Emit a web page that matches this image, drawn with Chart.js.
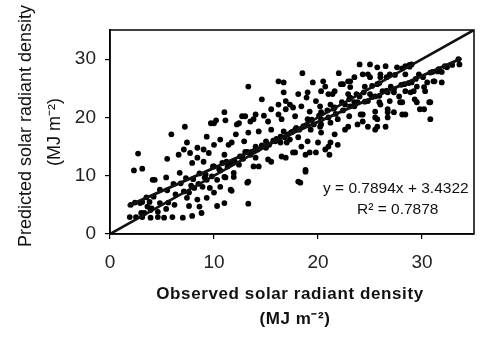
<!DOCTYPE html>
<html><head><meta charset="utf-8">
<script src="https://cdn.jsdelivr.net/npm/chart.js@4"></script>
<style>html,body{margin:0;padding:0;background:#fff}#wrap{width:480px;height:341px}</style>
</head><body><div id="wrap"><canvas id="c" width="480" height="341"></canvas></div>
<script>
// Observed (x) and predicted (y) solar radiant density, MJ m-2
const observed = [
1.9,2.5,3.1,3.9,4.6,5.2,6.0,7.0,7.9,8.8,3.0,3.9,4.6,5.4,6.2,3.6,2.0,7.6,8.6,10.3,11.0,7.4,9.3,8.4,3.1,3.8,10.0,7.6,8.1,9.6,8.9,10.6,11.6,11.7,4.1,4.3,5.4,9.3,10.3,11.0,11.1,6.7,11.9,2.3,3.1,10.0,10.8,11.7,7.9,9.0,5.5,8.4,6.6,11.0,2.7,7.7,9.5,7.1,9.0,8.4,10.0,11.4,7.4,10.6,9.3,5.9,7.2,9.7,10.2,11.0,11.1,10.0,
2.4,2.9,3.5,4.2,4.8,5.5,6.1,6.8,7.3,8.0,8.6,9.2,9.9,10.5,11.2,11.8,
3.3,4.0,4.8,5.6,6.3,7.1,7.8,8.5,9.1,9.8,10.6,11.3,
12.2,13.0,13.8,14.8,15.5,16.2,16.9,17.6,12.4,13.3,16.2,16.7,14.6,16.7,16.9,19.5,20.7,22.4,22.9,18.1,18.9,19.8,21.0,21.6,16.2,17.3,18.4,19.2,20.3,21.6,22.6,12.7,14.0,13.5,15.2,16.5,17.8,19.0,20.3,21.2,22.9,12.1,13.3,14.3,15.5,16.7,17.8,19.3,20.3,21.6,22.6,11.7,12.9,14.0,15.0,15.9,17.0,18.1,19.0,20.0,21.0,21.9,13.0,14.0,15.2,16.5,17.6,18.8,19.8,12.4,13.8,18.8,11.9,13.3,18.1,18.8,18.3,13.2,13.3,18.5,22.0,20.5,22.2,21.4,20.3,19.0,20.2,21.2,21.9,20.2,17.4,18.4,19.2,20.7,21.2,21.1,12.7,13.6,14.3,15.5,16.9,17.8,16.4,17.3,
12.5,13.2,13.9,14.6,15.3,16.0,16.8,17.5,18.2,18.9,19.6,20.3,21.0,21.7,22.4,23.1,
12.0,12.8,13.5,14.2,15.0,15.7,16.4,17.1,17.9,18.6,19.4,20.1,20.9,21.5,22.3,
24.0,25.0,25.7,26.5,27.6,28.4,29.0,33.6,31.9,31.1,30.2,23.1,24.3,25.0,26.0,28.3,29.0,29.2,28.4,27.3,26.2,25.0,24.0,22.9,23.5,24.8,25.9,26.9,28.1,29.8,30.7,28.1,26.7,25.5,24.3,23.0,30.8,25.7,28.8,23.5,24.8,26.0,26.9,28.4,29.7,31.0,31.6,32.4,23.1,24.5,25.7,27.0,29.5,30.5,31.2,31.9,23.1,25.5,26.7,27.8,28.9,30.3,23.5,26.0,27.9,29.3,29.5,30.8,24.1,25.5,26.7,27.3,28.4,30.2,24.3,25.7,26.7,23.8,24.8,25.5,26.5,
23.8,24.5,25.2,25.9,26.6,27.3,28.0,28.7,29.4,30.1,30.8,31.5,32.2,32.9,33.5,
23.0,23.7,24.4,25.2,25.9,26.6,27.4,28.1,28.8
];
const predicted = [
2.9,2.9,2.9,2.8,2.9,2.8,2.9,2.8,3.1,3.6,3.6,4.1,3.8,4.3,5.0,4.7,5.0,4.8,4.7,4.8,5.3,6.2,6.2,5.9,5.5,5.5,7.1,7.1,7.9,7.9,8.1,8.1,7.6,7.4,9.3,9.3,9.7,9.3,9.3,9.8,9.7,10.5,10.5,10.9,11.2,11.6,12.2,12.2,12.2,12.4,12.9,13.1,13.6,13.6,13.8,13.9,13.9,14.5,14.5,14.8,15.3,15.3,15.7,16.2,16.7,17.1,18.4,19.0,19.5,20.9,19.5,19.0,
5.4,5.3,6.3,6.4,7.6,7.5,8.6,8.7,9.6,9.4,10.4,10.2,11.6,11.1,12.4,12.2,
3.6,4.4,5.3,5.4,6.8,7.3,8.3,8.6,9.7,9.9,10.9,11.6,
18.8,20.2,19.7,20.3,21.4,20.5,21.4,21.7,19.0,25.3,26.2,26.0,23.1,24.3,22.8,26.0,25.3,25.7,26.2,24.0,23.4,22.8,24.0,24.5,22.2,22.2,21.9,21.0,20.9,21.7,22.2,20.2,20.5,19.3,19.3,19.7,20.2,19.7,18.8,19.1,18.4,17.1,17.4,17.6,17.9,17.6,17.9,17.9,17.4,17.1,17.9,15.7,15.9,15.0,15.9,15.9,15.7,16.6,15.9,15.7,15.0,15.3,14.1,13.1,12.8,13.3,14.0,13.6,14.0,11.9,11.6,11.0,9.8,9.0,9.0,10.7,8.8,8.8,5.2,27.6,27.6,26.2,25.7,24.0,24.5,24.3,21.9,22.2,19.7,18.4,17.4,15.0,14.0,14.5,15.7,13.6,13.3,14.1,11.6,12.4,13.1,14.0,15.7,16.2,
13.3,14.1,14.3,15.2,15.3,16.3,16.6,17.5,17.9,18.7,18.8,19.7,20.0,20.6,21.2,21.9,
12.4,12.9,13.6,14.5,14.8,16.0,16.7,17.1,18.2,18.5,19.6,20.3,21.2,21.5,22.6,
29.1,29.1,28.6,28.8,28.6,28.8,29.1,29.1,27.8,26.2,25.2,26.2,27.4,26.9,27.4,25.7,26.0,24.5,24.5,24.3,24.5,24.0,23.6,24.0,22.6,22.8,22.6,22.8,22.6,21.4,22.6,20.5,20.9,20.0,20.5,20.2,19.7,18.4,29.0,26.9,27.4,26.9,27.4,27.4,27.4,27.8,28.3,28.6,25.2,25.3,25.7,25.3,25.3,26.0,26.2,26.0,23.4,23.6,24.3,23.6,24.3,24.5,21.9,22.2,22.6,23.1,22.6,22.6,20.5,21.0,21.4,20.9,20.5,21.4,19.3,19.7,20.0,18.8,18.4,17.9,18.4,
22.6,22.7,23.5,23.7,24.6,24.8,25.6,25.9,26.6,26.9,27.7,27.9,28.8,29.0,30.0,
23.1,24.0,24.3,25.4,25.9,26.9,27.3,28.4,28.7
];
// Fitted regression and 1:1 reference
const slope = 0.7894, intercept = 3.4322, rSquared = 0.7878;
const fitRange = [1.7, 33.8];
const oneToOne = [0, 35];
const xTicks = [0, 10, 20, 30];
const yTicks = [0, 10, 20, 30];
const axisMax = 35;

const points = observed.map((x, i) => ({x: x, y: predicted[i]}));
const fitLine = fitRange.map(x => ({x: x, y: slope * x + intercept}));
const refLine = oneToOne.map(v => ({x: v, y: v}));

const FONT = '"Liberation Sans", Arial, sans-serif';

const decor = {
  id: 'decor',
  afterDraw(chart) {
    const ctx = chart.ctx, a = chart.chartArea;
    ctx.save();
    ctx.strokeStyle = '#000';
    ctx.lineWidth = 1.5;
    ctx.strokeRect(a.left, a.top, a.right - a.left, a.bottom - a.top);
    ctx.fillStyle = '#111';
    ctx.font = '15.5px ' + FONT;
    ctx.textAlign = 'left';
    ctx.textBaseline = 'alphabetic';
    ctx.fillText('y = ' + slope + 'x + ' + intercept, 323, 193);
    ctx.fillText('R\u00B2 = ' + rSquared, 357, 214);
    // x title
    ctx.textAlign = 'center';
    ctx.font = 'bold 17px ' + FONT;
    if ('letterSpacing' in ctx) ctx.letterSpacing = '0.6px';
    ctx.fillText('Observed solar radiant density', 290, 299);
    ctx.fillText('(MJ m\u207B\u00B2)', 295, 324);
    if ('letterSpacing' in ctx) ctx.letterSpacing = '0px';
    // y title
    ctx.font = '18px ' + FONT;
    ctx.save();
    ctx.translate(31, 126);
    ctx.rotate(-Math.PI / 2);
    ctx.fillText('Predicted solar radiant density', 0, 0);
    ctx.restore();
    ctx.save();
    ctx.translate(60, 132);
    ctx.rotate(-Math.PI / 2);
    ctx.fillText('(MJ m\u207B\u00B2)', 0, 0);
    ctx.restore();
    ctx.restore();
  }
};

new Chart(document.getElementById('c'), {
  type: 'scatter',
  data: {
    datasets: [
      {data: points, pointRadius: 2.9, pointBackgroundColor: '#000', pointBorderWidth: 0, showLine: false, order: 3},
      {data: refLine, showLine: true, borderColor: '#111', borderWidth: 2.6, pointRadius: 0, order: 1},
      {data: fitLine, showLine: true, borderColor: '#111', borderWidth: 3, pointRadius: 0, order: 2}
    ]
  },
  options: {
    responsive: false,
    animation: false,
    events: [],
    layout: {padding: {left: 0, right: 6, top: 30, bottom: 0}},
    plugins: {legend: {display: false}, tooltip: {enabled: false}},
    scales: {
      x: {
        type: 'linear', min: 0, max: axisMax,
        afterBuildTicks: s => { s.ticks = xTicks.map(v => ({value: v})); },
        afterFit: s => { s.height = 107; },
        ticks: {font: {family: FONT, size: 19}, color: '#222', padding: 12, maxRotation: 0},
        grid: {drawOnChartArea: false, drawTicks: true, tickLength: 5, color: '#000', lineWidth: 1.2},
        border: {display: true, color: '#000', width: 1.5}
      },
      y: {
        type: 'linear', min: 0, max: axisMax,
        afterBuildTicks: s => { s.ticks = yTicks.map(v => ({value: v})); },
        afterFit: s => { s.width = 110; },
        ticks: {font: {family: FONT, size: 19}, color: '#222', padding: 9},
        grid: {drawOnChartArea: false, drawTicks: true, tickLength: 5, color: '#000', lineWidth: 1.2},
        border: {display: true, color: '#000', width: 1.5}
      }
    }
  },
  plugins: [decor]
});
</script>
</body></html>
